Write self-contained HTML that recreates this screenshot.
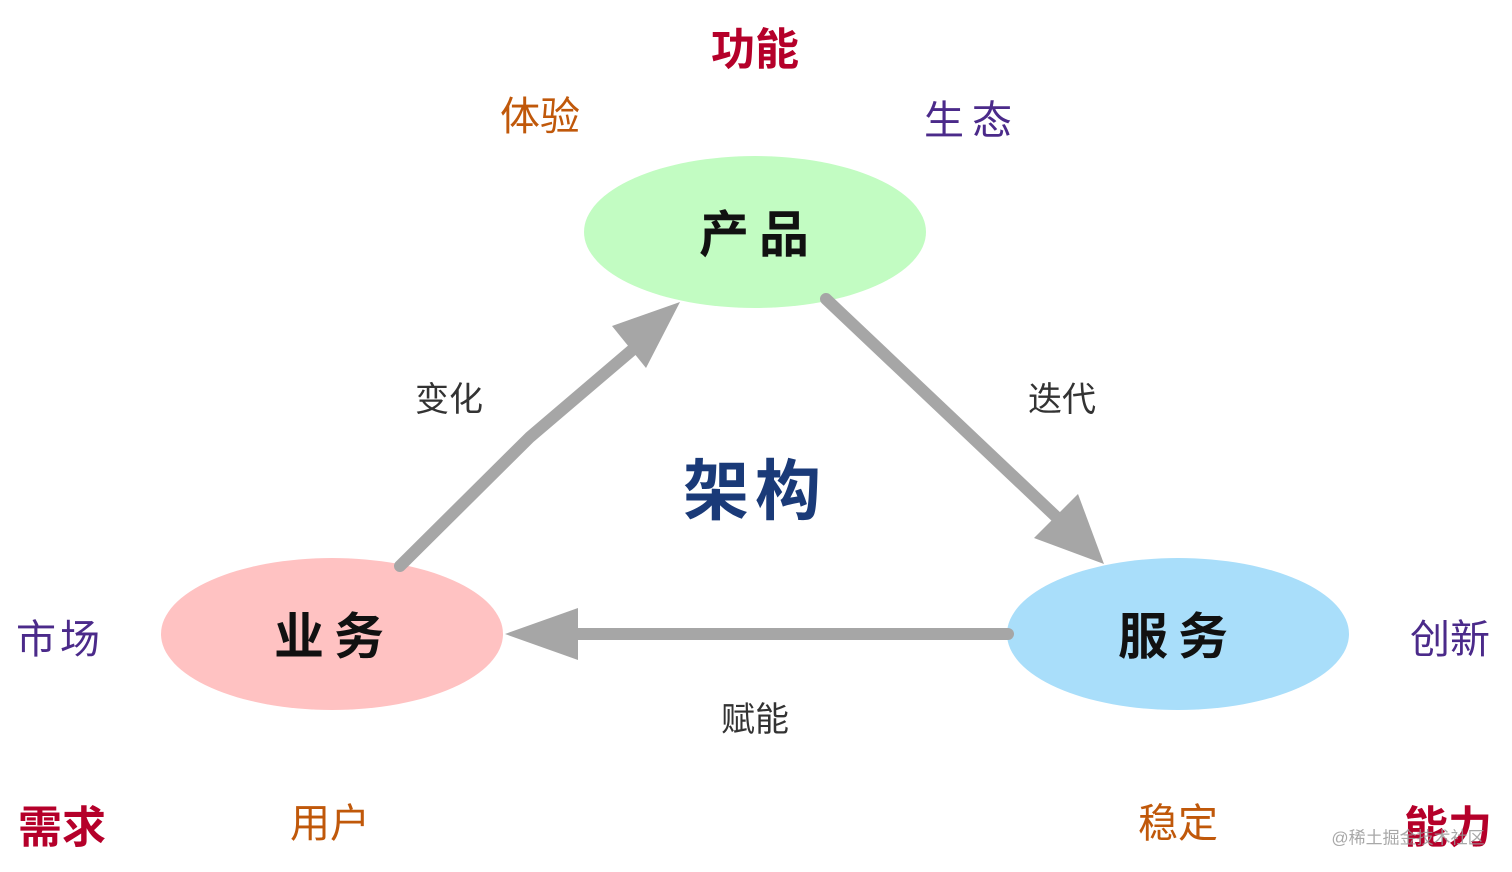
<!DOCTYPE html>
<html><head><meta charset="utf-8"><style>
html,body{margin:0;padding:0;background:#fff;}
svg{display:block;}
text{font-family:"Liberation Sans","Noto Sans CJK SC",sans-serif;text-anchor:middle;dominant-baseline:central;}
</style></head><body>
<svg width="1512" height="872" viewBox="0 0 1512 872" xmlns="http://www.w3.org/2000/svg">
<rect width="1512" height="872" fill="#fff"/>
<ellipse cx="755" cy="232" rx="171" ry="76" fill="#c2fcc2"/>
<ellipse cx="332" cy="634" rx="171" ry="76" fill="#ffc2c2"/>
<ellipse cx="1178" cy="634" rx="171" ry="76" fill="#a9defa"/>
<g stroke="#a6a6a6" stroke-width="12" stroke-linecap="round" fill="none">
<polyline points="400,566 530,437 638,345"/>
<line x1="826" y1="299" x2="1068" y2="528"/>
<line x1="1008" y1="634" x2="560" y2="634"/>
</g>
<g fill="#a6a6a6">
<polygon points="680,302 646,368 612,326"/>
<polygon points="1104,564 1034,538 1078,494"/>
<polygon points="505,634 578,608 578,660"/>
</g>
<text x="755" y="50" font-size="44" font-weight="bold" fill="#b5002a">功能</text>
<text x="540" y="117" font-size="40" fill="#c0580a">体验</text>
<text x="972" y="121" font-size="40" fill="#4b2a8a" letter-spacing="8">生态</text>
<text x="759" y="235" font-size="50" font-weight="bold" fill="#111" letter-spacing="10">产品</text>
<text x="449" y="400" font-size="34" fill="#333">变化</text>
<text x="1062" y="400" font-size="34" fill="#333">迭代</text>
<text x="755" y="491" font-size="66" font-weight="bold" fill="#1a3a78" letter-spacing="6">架构</text>
<text x="60" y="640" font-size="40" fill="#4b2a8a" letter-spacing="4">市场</text>
<text x="334" y="637" font-size="50" font-weight="bold" fill="#111" letter-spacing="10">业务</text>
<text x="1178" y="637" font-size="50" font-weight="bold" fill="#111" letter-spacing="10">服务</text>
<text x="1450" y="640" font-size="40" fill="#4b2a8a">创新</text>
<text x="755" y="720" font-size="34" fill="#333">赋能</text>
<text x="62" y="828" font-size="44" font-weight="bold" fill="#b5002a">需求</text>
<text x="330" y="824" font-size="40" fill="#c0580a">用户</text>
<text x="1178" y="824" font-size="40" fill="#c0580a">稳定</text>
<text x="1448" y="828" font-size="44" font-weight="bold" fill="#b5002a">能力</text>
<text x="1408" y="838" font-size="17" fill="#999" opacity="0.85">@稀土掘金技术社区</text>
</svg>
</body></html>
